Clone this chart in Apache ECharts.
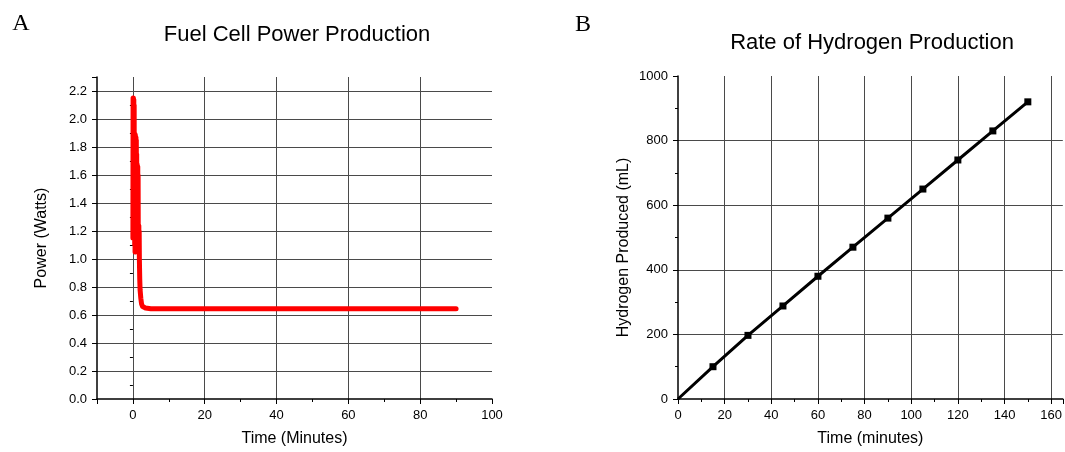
<!DOCTYPE html>
<html>
<head>
<meta charset="utf-8">
<script src="https://cdn.jsdelivr.net/npm/echarts@6/dist/echarts.min.js"></script>
<style>
html,body{margin:0;padding:0;background:#fff;}
#c{width:1065px;height:452px;}
</style>
</head>
<body>
<div id="c"></div>
<script>
// ---- Panel A: Fuel Cell Power Production ----
const powerTime = [0, 0.05, 0.1, 0.15, 0.2, 0.25, 0.3, 0.35, 0.4, 0.45,
  0.5, 0.55, 0.6, 0.65, 0.7, 0.75, 0.8, 0.85, 0.9, 0.95,
  1.0, 1.05, 1.1, 1.15, 1.2, 1.25, 1.3, 1.35, 1.4, 1.45,
  1.5, 1.55, 1.6, 1.65, 1.7, 1.75, 1.8,
  1.9, 2.0, 2.2, 2.4, 2.7, 3.0, 3.5,
  5, 10, 20, 30, 40, 50, 60, 70, 80, 90];
const powerWatts = [1.15, 2.15, 1.6, 2.15, 1.2, 2.14, 1.4, 2.1, 1.15, 1.9,
  1.1, 1.88, 1.05, 1.89, 1.1, 1.86, 1.05, 1.87, 1.12, 1.85,
  1.08, 1.75, 1.1, 1.68, 1.15, 1.67, 1.2, 1.66, 1.15, 1.6,
  1.1, 1.24, 1.1, 1.24, 1.05, 1.2, 1.0,
  0.86, 0.78, 0.72, 0.68, 0.66, 0.655, 0.65,
  0.645, 0.645, 0.645, 0.645, 0.645, 0.645, 0.645, 0.645, 0.645, 0.645];
const powerXTicks = [0, 20, 40, 60, 80, 100];
const powerXMinor = [10, 30, 50, 70, 90];
const powerYTicks = [0, 0.2, 0.4, 0.6, 0.8, 1.0, 1.2, 1.4, 1.6, 1.8, 2.0, 2.2];
const powerYMinor = [0.1, 0.3, 0.5, 0.7, 0.9, 1.1, 1.3, 1.5, 1.7, 1.9, 2.1];

// ---- Panel B: Rate of Hydrogen Production ----
const h2Time = [0, 15, 30, 45, 60, 75, 90, 105, 120, 135, 150];
const h2Volume = [0, 100, 197, 288, 380, 470, 560, 650, 740, 830, 920];
const h2XTicks = [0, 20, 40, 60, 80, 100, 120, 140, 160];
const h2XMinor = [10, 30, 50, 70, 90, 110, 130, 150];
const h2YTicks = [0, 200, 400, 600, 800, 1000];
const h2YMinor = [100, 300, 500, 700, 900];

const SANS = 'Liberation Sans, Arial, sans-serif';
const GRID_COLOR = '#4a4a4a';

function labelStyle(values, fmt) {
  return {show: true, customValues: values, margin: 10, color: '#000', fontSize: 13,
    fontFamily: SANS, formatter: fmt};
}
function nameStyle(extra) {
  return Object.assign({color: '#000', fontSize: 16, fontFamily: SANS}, extra || {});
}
function minorAxis(gridIndex, pos, min, max, values) {
  return {
    type: 'value', gridIndex: gridIndex, position: pos, min: min, max: max,
    axisLine: {show: false},
    axisTick: {show: true, length: 3, customValues: values, lineStyle: {color: '#000', width: 1}},
    axisLabel: {show: false},
    splitLine: {show: false}
  };
}

const chart = echarts.init(document.getElementById('c'), null, {renderer: 'canvas'});
chart.setOption({
  animation: false,
  backgroundColor: '#fff',
  graphic: [
    {type: 'text', x: 21, y: 24, style: {text: 'A', font: '24px "Liberation Serif", serif', fill: '#000', align: 'center', verticalAlign: 'middle'}},
    {type: 'text', x: 583, y: 25, style: {text: 'B', font: '24px "Liberation Serif", serif', fill: '#000', align: 'center', verticalAlign: 'middle'}},
    {type: 'text', x: 297, y: 35, style: {text: 'Fuel Cell Power Production', font: '22px "Liberation Sans", Arial, sans-serif', fill: '#000', align: 'center', verticalAlign: 'middle'}},
    {type: 'text', x: 872, y: 43, style: {text: 'Rate of Hydrogen Production', font: '22px "Liberation Sans", Arial, sans-serif', fill: '#000', align: 'center', verticalAlign: 'middle'}}
  ],
  grid: [
    {left: 97, right: 573, top: 77, bottom: 49, containLabel: false},
    {left: 678, right: 1, top: 76, bottom: 49, containLabel: false}
  ],
  xAxis: [
    {
      type: 'value', gridIndex: 0, position: 'bottom', min: -10, max: 100,
      splitNumber: 5, minInterval: 20, maxInterval: 20,
      axisLine: {show: true, onZero: false, lineStyle: {color: '#000', width: 1.5}},
      axisTick: {show: true, length: 5, lineStyle: {color: '#000', width: 1}},
      axisLabel: labelStyle(powerXTicks, v => String(v)),
      splitLine: {show: true, showMinLine: false, showMaxLine: false, lineStyle: {color: GRID_COLOR, width: 1}},
      name: 'Time (Minutes)', nameLocation: 'middle', nameGap: 32, nameTextStyle: nameStyle()
    },
    minorAxis(0, 'bottom', -10, 100, powerXMinor),
    {
      type: 'value', gridIndex: 1, position: 'bottom', min: 0, max: 165, interval: 20,
      axisLine: {show: true, onZero: false, lineStyle: {color: '#000', width: 1.5}},
      axisTick: {show: true, length: 5, lineStyle: {color: '#000', width: 1}},
      axisLabel: labelStyle(h2XTicks, v => String(v)),
      splitLine: {show: true, showMinLine: false, showMaxLine: false, lineStyle: {color: GRID_COLOR, width: 1}},
      name: 'Time (minutes)', nameLocation: 'middle', nameGap: 32, nameTextStyle: nameStyle()
    },
    minorAxis(1, 'bottom', 0, 165, h2XMinor)
  ],
  yAxis: [
    {
      type: 'value', gridIndex: 0, position: 'left', min: 0, max: 2.3, interval: 0.2,
      axisLine: {show: true, onZero: false, lineStyle: {color: '#000', width: 1.5}},
      axisTick: {show: true, length: 5, lineStyle: {color: '#000', width: 1}},
      axisLabel: labelStyle(powerYTicks, v => Number(v).toFixed(1)),
      splitLine: {show: true, showMinLine: false, showMaxLine: false, lineStyle: {color: GRID_COLOR, width: 1}},
      name: 'Power (Watts)', nameLocation: 'middle', nameGap: 47, nameTextStyle: nameStyle()
    },
    minorAxis(0, 'left', 0, 2.3, powerYMinor),
    {
      type: 'value', gridIndex: 1, position: 'left', min: 0, max: 1000, interval: 200,
      axisLine: {show: true, onZero: false, lineStyle: {color: '#000', width: 1.5}},
      axisTick: {show: true, length: 5, lineStyle: {color: '#000', width: 1}},
      axisLabel: labelStyle(h2YTicks, v => String(v)),
      splitLine: {show: true, showMinLine: false, showMaxLine: false, lineStyle: {color: GRID_COLOR, width: 1}},
      name: 'Hydrogen Produced (mL)', nameLocation: 'middle', nameGap: 46,
      nameTextStyle: nameStyle({padding: [0, 20, 0, 0]})
    },
    minorAxis(1, 'left', 0, 1000, h2YMinor)
  ],
  series: [
    {
      type: 'line', xAxisIndex: 0, yAxisIndex: 0,
      data: powerTime.map((t, i) => [t, powerWatts[i]]),
      showSymbol: false, symbol: 'none',
      lineStyle: {color: '#ff0000', width: 5, join: 'round', cap: 'round'},
      z: 3
    },
    {
      type: 'line', xAxisIndex: 2, yAxisIndex: 2,
      data: h2Time.map((t, i) => i === 0 ? {value: [t, h2Volume[i]], symbol: 'none'} : [t, h2Volume[i]]),
      symbol: 'rect', symbolSize: 7, showSymbol: true,
      itemStyle: {color: '#000'},
      lineStyle: {color: '#000', width: 3},
      z: 3
    }
  ]
});
</script>
</body>
</html>
